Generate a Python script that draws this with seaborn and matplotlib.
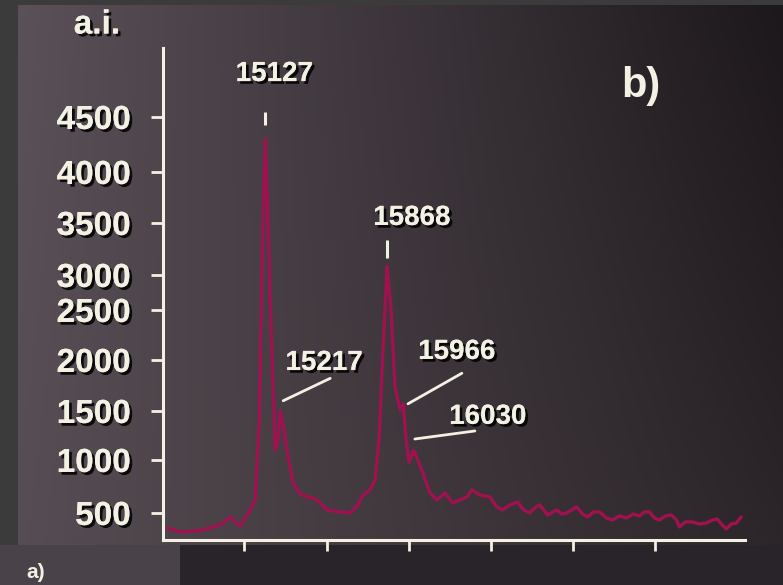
import numpy as np
import pandas as pd
import matplotlib
matplotlib.use("Agg")
import matplotlib.pyplot as plt
import matplotlib.patheffects as pe
from matplotlib.patches import Rectangle
import seaborn as sns

# ---------------- data ----------------
mz = [14532, 14611, 14702, 14793, 14866, 14915, 14945, 14975, 15024, 15066,
      15091, 15109, 15127, 15145, 15163, 15188, 15206, 15218, 15242, 15261,
      15297, 15339, 15388, 15443, 15503, 15582, 15643, 15691, 15722, 15764,
      15795, 15819, 15843, 15861, 15868, 15892, 15916, 15947, 15966, 15984,
      16001, 16030, 16050, 16086, 16129, 16171, 16220, 16268, 16311, 16353,
      16384, 16432, 16493, 16535, 16571, 16614, 16662, 16699, 16735, 16766,
      16796, 16845, 16900, 16930, 16961, 17021, 17057, 17088, 17124, 17160,
      17203, 17239, 17282, 17324, 17367, 17403, 17433, 17464, 17494, 17524,
      17561, 17597, 17628, 17646, 17682, 17725, 17767, 17810, 17846, 17877,
      17901, 17931, 17962, 17992, 18022]
intensity = [353, 314, 324, 353, 392, 461, 412, 373, 500, 623,
             1408, 3240, 4300, 3433, 2270, 1102, 1204, 1500, 1306, 1082,
             783, 679, 651, 623, 528, 509, 500, 576, 670, 717,
             811, 1204, 2100, 2786, 3080, 2500, 1735, 1510, 1570, 1204,
             980, 1100, 1020, 877, 689, 623, 689, 594, 623, 651,
             717, 670, 651, 557, 528, 576, 604, 528, 500, 548,
             576, 480, 528, 490, 500, 557, 490, 461, 510, 510,
             451, 431, 471, 451, 490, 471, 510, 510, 451, 431,
             471, 480, 431, 363, 412, 412, 392, 402, 431, 441,
             392, 343, 392, 402, 461]

ytick_values = [500, 1000, 1500, 2000, 2500, 3000, 3500, 4000, 4500]
xtick_values = [15000, 15500, 16000, 16500, 17000, 17500]

peak_labels = ["15127", "15868"]
peak_mz = [15127, 15868]
shoulder_labels = ["15217", "15966", "16030"]

df = pd.DataFrame({"mz": mz, "intensity": intensity})

# ---------------- styling ----------------
sns.set_theme(style="white")
plt.rcParams["font.family"] = ["Liberation Sans", "DejaVu Sans"]
TXT = "#f3f1e4"
LINE = "#a0124f"
shadow = [pe.withSimplePatchShadow(offset=(2, -2), shadow_rgbFace="black", alpha=0.85),
          pe.Normal()]

W, H = 783, 585
fig = plt.figure(figsize=(W / 100, H / 100), dpi=100)

# background photo-like gradient
bg = fig.add_axes([0, 0, 1, 1], zorder=-10)
tl = np.array([0x5c, 0x52, 0x5a]) / 255
tr = np.array([0x1d, 0x18, 0x1c]) / 255
bl = np.array([0x57, 0x4d, 0x54]) / 255
br = np.array([0x2d, 0x26, 0x2a]) / 255
u = np.linspace(0, 1, 200)[None, :, None]
v = np.linspace(0, 1, 150)[:, None, None]
grad = (1 - u) * (1 - v) * tl + u * (1 - v) * tr + (1 - u) * v * bl + u * v * br
bg.imshow(grad, extent=[0, 1, 0, 1], aspect="auto", origin="upper")
bg.set_xlim(0, 1)
bg.set_ylim(0, 1)
bg.axis("off")
# frame strips of the photographed slide
bg.add_patch(Rectangle((0, 0), 18 / W, 1, color="#3c3b3c", lw=0))
bg.add_patch(Rectangle((0, 1 - 5 / H), 1, 5 / H, color="#3c3b3c", lw=0))
bg.add_patch(Rectangle((180 / W, 0), 1, 40 / H, color="#29232a", lw=0))
bg.add_patch(Rectangle((0, 0), 180 / W, 40 / H, color="#4a4249", lw=0))
fig.text(26 / W, 3 / H, "a)", color=TXT, fontsize=15, fontweight="bold",
         va="bottom", ha="left")

# ---------------- main axes ----------------
left, right = 163 / W, 745 / W
bottom, top = 1 - 540 / H, 1 - 48 / H
ax = fig.add_axes([left, bottom, right - left, top - bottom])
ax.patch.set_alpha(0)

# piecewise scale of the original axis (break between 2500 and 3000)
knot_vals = np.array([0, 500, 1000, 1500, 2000, 2500, 3000, 3500, 4000, 4500, 5500], float)
knot_pos = -np.array([564, 513, 460, 411, 360, 310, 275, 223, 172, 117, 7], float)


def fwd(y):
    return np.interp(y, knot_vals, knot_pos)


def inv(t):
    return np.interp(t, knot_pos, knot_vals)


ax.set_yscale("function", functions=(fwd, inv))

sns.lineplot(data=df, x="mz", y="intensity", ax=ax, color=LINE, lw=2.4,
             estimator=None, sort=True)

ax.set_xlim(14505, 18045)
ax.set_ylim(235, 5127)
ax.set_xlabel("")
ax.set_ylabel("")

for s in ["top", "right"]:
    ax.spines[s].set_visible(False)
for s in ["left", "bottom"]:
    ax.spines[s].set_color(TXT)
    ax.spines[s].set_linewidth(2.2)

ax.set_yticks(ytick_values)
ax.set_yticklabels([str(t) for t in ytick_values])
ax.set_xticks(xtick_values)
ax.set_xticklabels([])
ax.minorticks_off()
ax.tick_params(axis="y", direction="out", length=9, width=2, color=TXT,
               pad=14, labelsize=24, labelcolor=TXT, left=True)
ax.tick_params(axis="x", direction="out", length=8, width=2, color=TXT, bottom=True)
for lab in ax.get_yticklabels():
    lab.set_fontweight("bold")
    lab.set_path_effects(shadow)

# axis unit
fig.text(97 / W, 1 - 25 / H, "a.i.", color=TXT, fontsize=24, fontweight="bold",
         ha="center", va="center", path_effects=shadow)
# panel tag
fig.text(641 / W, 1 - 86 / H, "b)", color=TXT, fontsize=30, fontweight="bold",
         ha="center", va="center")

# main peak labels with small tick markers
peak_text_pos = [(15182, 4890), (16019, 3549)]
peak_mark = [(4427, 4545), (3163, 3337)]
for lab, m, (tx, ty), (m0, m1) in zip(peak_labels, peak_mz, peak_text_pos, peak_mark):
    ax.plot([m, m], [m0, m1], color=TXT, lw=2.2, solid_capstyle="butt")
    ax.text(tx, ty, lab, color=TXT, fontsize=20, fontweight="bold",
            ha="center", va="center", path_effects=shadow)

# shoulder labels with leader lines
txt_pos = [(15485, 1970), (16292, 2080), (16481, 1440)]
lead_start = [(15236, 1600), (15995, 1570), (16037, 1214)]
lead_end = [(15522, 1820), (16323, 1870), (16402, 1296)]
for lab, (tx, ty), (sx, sy), (ex, ey) in zip(shoulder_labels, txt_pos, lead_start, lead_end):
    ax.plot([sx, ex], [sy, ey], color=TXT, lw=2.0, solid_capstyle="round")
    ax.text(tx, ty, lab, color=TXT, fontsize=20, fontweight="bold",
            ha="center", va="center", path_effects=shadow)

fig.savefig("out.png", dpi=100)
